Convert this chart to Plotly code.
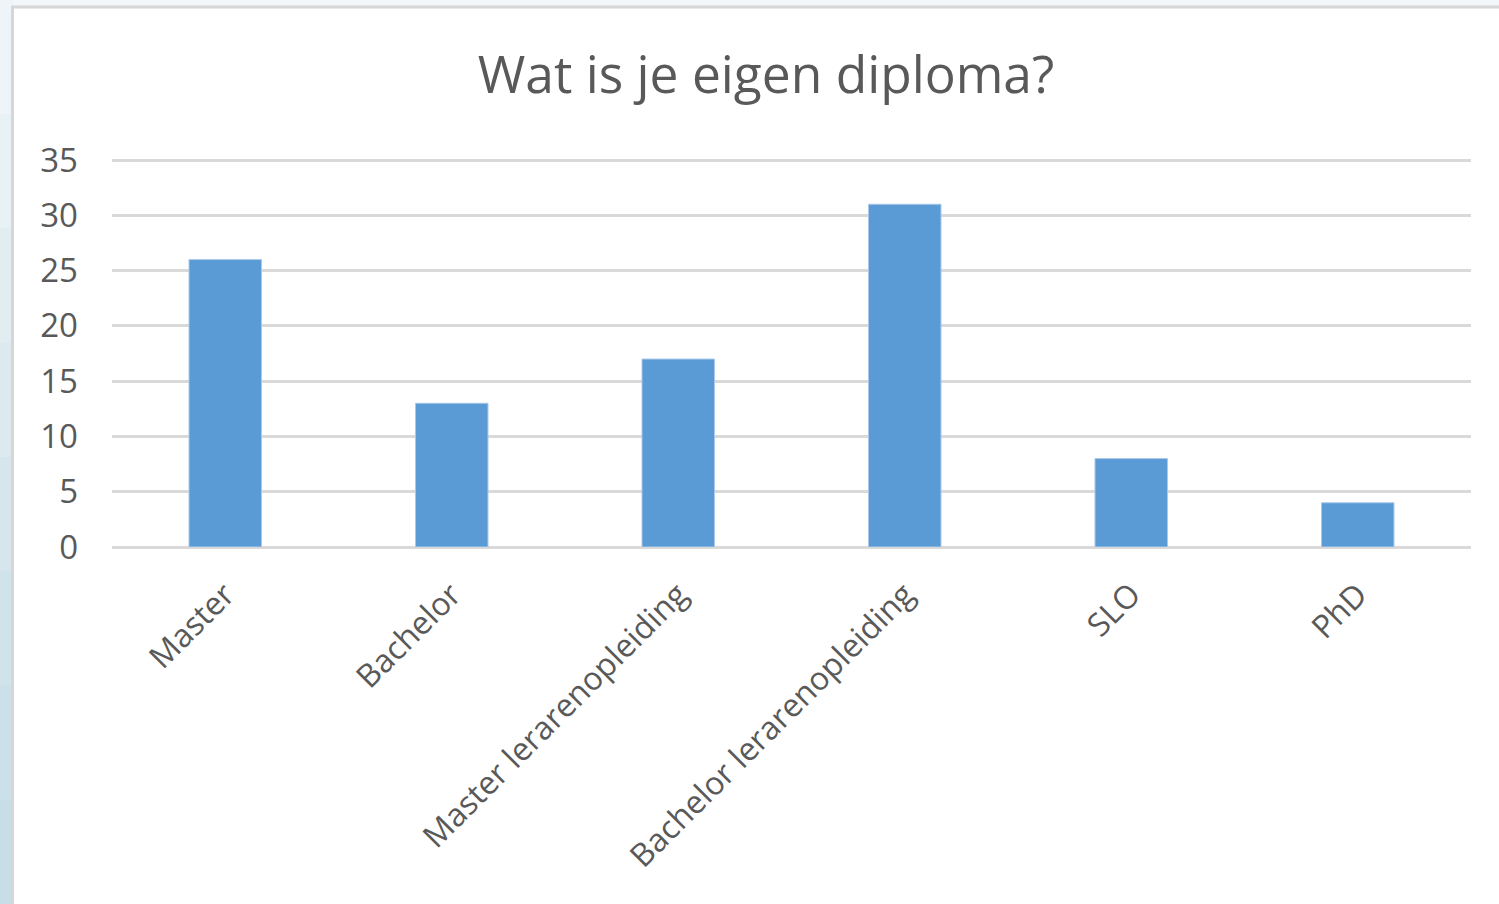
import plotly.graph_objects as go

categories = ["Master", "Bachelor", "Master lerarenopleiding",
              "Bachelor lerarenopleiding", "SLO", "PhD"]
counts = [26, 13, 17, 31, 8, 4]
y_ticks = [0, 5, 10, 15, 20, 25, 30, 35]

W, H = 1499, 904
L, R, T, B = 112, 28, 149, 357
pw, ph = W - L - R, H - T - B


def px_x(x):
    return (x - L) / pw


def px_y(y):
    return (H - B - y) / ph


fig = go.Figure(go.Bar(
    x=categories, y=counts,
    marker=dict(color="#5b9bd5", line=dict(color="#a9c8ea", width=1)),
))

shapes = []
# soft blue strip on the left, light at the top and darker at the bottom
bands = ["#eef4f7", "#e8f1f4", "#e2edf1", "#dce9ee", "#d6e6ec", "#d0e3ea", "#cbe0e8", "#c8dee6"]
step = (H + 10) / len(bands)
for i, c in enumerate(bands):
    shapes.append(dict(type="rect", xref="paper", yref="paper", layer="below",
                       x0=px_x(-5), x1=px_x(14), y0=px_y(i * step), y1=px_y((i + 1) * step + 1),
                       fillcolor=c, line=dict(width=0)))
# white card with grey edge
shapes.append(dict(type="rect", xref="paper", yref="paper", layer="below",
                   x0=px_x(12.5), x1=px_x(W + 20), y0=px_y(H + 20), y1=px_y(7),
                   fillcolor="white", line=dict(color="#d6d6d6", width=3)))

fig.update_layout(
    width=W, height=H,
    margin=dict(l=L, r=R, t=T, b=B),
    paper_bgcolor="#f3f7fa",
    plot_bgcolor="white",
    shapes=shapes,
    showlegend=False,
    bargap=0.68,
    font=dict(family="Open Sans", color="#595959"),
    title=dict(text="Wat is je eigen diploma?", x=766 / W, xanchor="center",
               y=1 - 75 / H, yanchor="middle",
               font=dict(size=51.5, color="#595959", family="Open Sans")),
    xaxis=dict(tickangle=-45, tickfont=dict(size=32, color="#595959"),
               showgrid=False, zeroline=False, showline=False,
               ticks="outside", ticklen=15, tickcolor="rgba(0,0,0,0)"),
    yaxis=dict(range=[0, 36], tickvals=y_ticks, tickfont=dict(size=33, color="#595959"),
               showgrid=True, gridcolor="#d9d9d9", gridwidth=2.5,
               zeroline=True, zerolinecolor="#d9d9d9", zerolinewidth=2.5,
               showline=False, ticklabelstandoff=33),
)

fig.write_html("out.html", config={"displayModeBar": False},
               post_script="document.body.style.margin='0';document.body.style.overflow='hidden';")
